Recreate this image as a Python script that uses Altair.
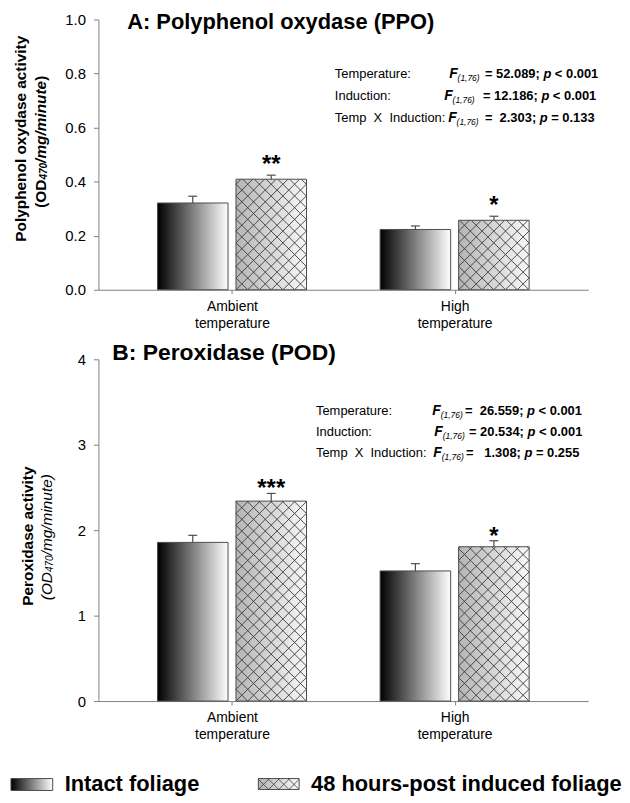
import json
import altair as alt
import numpy as np
import pandas as pd

FONT = "Liberation Sans"
NB = "\u00a0"

# ---------------- data ----------------
categories = ["Ambient temperature", "High temperature"]
treatments = ["Intact foliage", "48 hours-post induced foliage"]

# order: ambient-intact, ambient-induced, high-intact, high-induced
ppo_means = [0.321, 0.409, 0.223, 0.257]
ppo_errors = [0.025, 0.015, 0.013, 0.015]
ppo_stars = ["", "**", "", "*"]

pod_means = [1.857, 2.340, 1.523, 1.806]
pod_errors = [0.083, 0.090, 0.085, 0.070]
pod_stars = ["", "***", "", "*"]

ppo_ticks = [0.0, 0.2, 0.4, 0.6, 0.8, 1.0]
pod_ticks = [0, 1, 2, 3, 4]

stat_effects = ["Temperature:", "Induction:", "Temp" + NB + NB + "X" + NB + NB + "Induction:"]
stat_df = "(1,76)"
ppo_F = ["52.089", "12.186", "2.303"]
ppo_p = ["< 0.001", "< 0.001", "= 0.133"]
pod_F = ["26.559", "20.534", "1.308"]
pod_p = ["< 0.001", "< 0.001", "= 0.255"]

panel_titles = ["A: Polyphenol oxydase (PPO)", "B: Peroxidase (POD)"]
ppo_ytitle = "Polyphenol oxydase activity"
pod_ytitle = "Peroxidase activity"
unit_parts = ["(OD", "470", "/mg/minute", ")"]

# ---------------- layout ----------------
PLOT_W = 493
H_A, H_B = 272, 344
X_DOMAIN = [0.4, 2.6]
PX = PLOT_W / (X_DOMAIN[1] - X_DOMAIN[0])
BAR_PX, GAP_PX, CAP_PX, HATCH_PX = 71, 8, 9, 11.8
AXIS_GREY = "#808080"
EDGE = "#4d4d4d"
HATCH_COL = "#3a3a3a"
PAGE_LEFT, A_TOP, B_TOP = 98, 17, 359

GRAD_INTACT = {"gradient": "linear", "x1": 0, "y1": 0, "x2": 1, "y2": 0,
               "stops": [{"offset": 0, "color": "#000000"},
                         {"offset": 1, "color": "#ffffff"}]}
GRAD_INDUCED = {"gradient": "linear", "x1": 0, "y1": 0, "x2": 1, "y2": 0,
                "stops": [{"offset": 0, "color": "#b5b5b5"},
                          {"offset": 1, "color": "#f8f8f8"}]}

BOLD_W = {"=": .584, "<": .584, ".": .278, ";": .333, " ": .278, NB: .278}


def bw(s, size):
    return sum(BOLD_W.get(c, .556) for c in s) * size


def bars_frame(means, errors, stars):
    rows = []
    for i, (m, e, s) in enumerate(zip(means, errors, stars)):
        g, t = divmod(i, 2)
        c = g + 1
        if t == 0:
            x0 = c - (GAP_PX / 2 + BAR_PX) / PX
            x1 = c - (GAP_PX / 2) / PX
        else:
            x0 = c + (GAP_PX / 2) / PX
            x1 = c + (GAP_PX / 2 + BAR_PX) / PX
        xc = (x0 + x1) / 2
        rows.append({"category": categories[g], "treatment": treatments[t],
                     "mean": m, "top": m + e, "zero": 0.0,
                     "x0": x0, "x1": x1, "xc": xc,
                     "c0": xc - CAP_PX / 2 / PX, "c1": xc + CAP_PX / 2 / PX,
                     "star": s})
    return pd.DataFrame(rows)


def clip_diagonals(w, h, d):
    segs = []
    n = int(np.ceil((w + h) / d)) + 2
    for k in range(-n, n + 1):
        c = k * d
        xa, xb = max(0.0, -c), min(w, h - c)
        if xb - xa > 0.3:
            segs.append((xa, xa + c, xb, xb + c))
        xa, xb = max(0.0, c - h), min(w, c)
        if xb - xa > 0.3:
            segs.append((xa, c - xa, xb, c - xb))
    return segs


def hatch_frame(bars, ypx):
    rows = []
    for r in bars[bars.treatment == treatments[1]].itertuples():
        w = (r.x1 - r.x0) * PX
        h = r.mean * ypx
        for xa, ya, xb, yb in clip_diagonals(w, h, HATCH_PX):
            rows.append({"hx0": r.x0 + xa / PX, "hy0": ya / ypx,
                         "hx1": r.x0 + xb / PX, "hy1": yb / ypx})
    return pd.DataFrame(rows)


def txt(rows, weight="normal", style="normal", align="left", angle=0):
    df = pd.DataFrame(rows, columns=["px", "py", "label", "fs"])
    return alt.Chart(df).mark_text(
        font=FONT, fontWeight=weight, fontStyle=style, align=align,
        baseline="middle", angle=angle, color="black"
    ).encode(
        x=alt.X("px:Q", scale=None, axis=None),
        y=alt.Y("py:Q", scale=None, axis=None),
        size=alt.Size("fs:Q", scale=None, legend=None),
        text="label:N",
    )


def stats_layers(F_vals, p_vals, top, label_x, F_x, eq_x, ys, pads):
    normal, fit, sub, bold = [], [], [], []
    for i in range(3):
        y = ys[i] - top
        normal.append((label_x - PAGE_LEFT, y, stat_effects[i], 13))
        fx = F_x[i] - PAGE_LEFT
        fit.append((fx, y, "F", 14))
        sub.append((fx + 8.5, y + 4, stat_df, 8.5))
        s1 = "=" + NB * pads[i] + " " + F_vals[i] + ";"
        ex = eq_x[i] - PAGE_LEFT
        bold.append((ex, y, s1, 13))
        xp = ex + bw(s1, 13) + 3.6
        fit.append((xp, y, "p", 13))
        bold.append((xp + 7.9 + 3.6, y, p_vals[i], 13))
    return [txt(normal), txt(fit, "bold", "italic"), txt(sub, "normal", "italic"),
            txt(bold, "bold")]


def unit_title(xp, yc, size, weight, styles):
    # rotated multi-style "(OD470/mg/minute)" reading upward
    sub_size = size * 0.65
    widths = [1.833 * size, 1.668 * sub_size,
              (5.334 if weight == "bold" else 4.946) * size, 0.333 * size]
    total = sum(widths)
    y = yc + total / 2
    layers = []
    for part, wdt, st, i in zip(unit_parts, widths, styles, range(4)):
        fs = sub_size if i == 1 else size
        xx = xp + (3.5 if i == 1 else 0)
        layers.append(txt([(xx, y, part, fs)], weight, st, "left", 270))
        y -= wdt
    return layers


def panel(means, errors, stars, ticks, fmt, ymax, height, top, star_dy,
          title_xy, ytitle, ytitle_x, ytitle_y, unit_x, unit_y, unit_weight, unit_styles,
          F_vals, p_vals, label_x, F_x, eq_x, ys, pads, extra=()):
    bars = bars_frame(means, errors, stars)
    ypx = height / ymax
    hatch = hatch_frame(bars, ypx)
    xs = alt.Scale(domain=X_DOMAIN, nice=False, zero=False)
    ysc = alt.Scale(domain=[0, ymax], nice=False, zero=True)
    label_expr = "split(" + json.dumps(categories) + "[datum.value - 1], ' ')"
    xa = alt.Axis(values=[1, 2], labelExpr=label_expr, title=None, grid=False,
                  domainColor=AXIS_GREY, tickColor=AXIS_GREY, tickSize=4,
                  labelFontSize=14, labelLineHeight=17, labelPadding=6,
                  labelColor="black", labelFont=FONT)
    ya = alt.Axis(values=ticks, format=fmt, title=None, grid=False,
                  domainColor=AXIS_GREY, tickColor=AXIS_GREY, tickSize=5,
                  labelFontSize=15, labelPadding=8, labelColor="black",
                  labelFont=FONT)

    def X(f):
        return alt.X(f, scale=xs, axis=xa)

    def Y(f):
        return alt.Y(f, scale=ysc, axis=ya)

    base = alt.Chart(bars)
    intact = base.transform_filter(alt.datum.treatment == treatments[0]).mark_rect(
        fill=GRAD_INTACT, stroke=EDGE, strokeWidth=1).encode(
        x=X("x0:Q"), x2="x1:Q", y=Y("mean:Q"), y2="zero:Q")
    induced = base.transform_filter(alt.datum.treatment == treatments[1]).mark_rect(
        fill=GRAD_INDUCED, strokeWidth=0).encode(
        x=X("x0:Q"), x2="x1:Q", y=Y("mean:Q"), y2="zero:Q")
    hatch_l = alt.Chart(hatch).mark_rule(color=HATCH_COL, strokeWidth=0.9).encode(
        x=X("hx0:Q"), x2="hx1:Q", y=Y("hy0:Q"), y2="hy1:Q")
    outline = base.transform_filter(alt.datum.treatment == treatments[1]).mark_rect(
        fillOpacity=0, stroke=EDGE, strokeWidth=1).encode(
        x=X("x0:Q"), x2="x1:Q", y=Y("mean:Q"), y2="zero:Q")
    err = base.mark_rule(color=EDGE, strokeWidth=1.2).encode(
        x=X("xc:Q"), y=Y("mean:Q"), y2="top:Q")
    caps = base.mark_rule(color=EDGE, strokeWidth=1.2).encode(
        x=X("c0:Q"), x2="c1:Q", y=Y("top:Q"))
    star_l = base.mark_text(font=FONT, fontSize=24, fontWeight="bold",
                            baseline="alphabetic", dy=star_dy, color="black").encode(
        x=X("xc:Q"), y=Y("top:Q"), text="star:N")

    layers = [intact, induced, hatch_l, outline, err, caps, star_l]
    layers.append(txt([(title_xy[0] - PAGE_LEFT, title_xy[1] - top, title_xy[2],
                        title_xy[3])], "bold"))
    layers.append(txt([(ytitle_x - PAGE_LEFT, ytitle_y - top, ytitle, 15.5)], "bold",
                      "normal", "center", 270))
    layers += unit_title(unit_x - PAGE_LEFT, unit_y - top, 15.5, unit_weight, unit_styles)
    layers += stats_layers(F_vals, p_vals, top, label_x, F_x, eq_x, ys, pads)
    layers += list(extra)
    return alt.layer(*layers).properties(width=PLOT_W, height=height)


# ---------------- legend (drawn under panel B) ----------------
def legend_layers(top):
    sw = [(10, 52, 781, 793), (259, 300, 781, 792)]
    rects = []
    for (a, b, c, d), g in zip(sw, [GRAD_INTACT, GRAD_INDUCED]):
        rects.append(alt.Chart(pd.DataFrame([{"a": a - PAGE_LEFT, "b": b - PAGE_LEFT,
                                              "c": c - top, "d": d - top}])).mark_rect(
            fill=g, stroke=EDGE, strokeWidth=1).encode(
            x=alt.X("a:Q", scale=None, axis=None), x2="b:Q",
            y=alt.Y("c:Q", scale=None, axis=None), y2="d:Q"))
    a, b, c, d = sw[1]
    segs = clip_diagonals(b - a, d - c, (b - a) / 4)
    hrows = [{"a": a - PAGE_LEFT + xa, "c": d - top - ya, "b": a - PAGE_LEFT + xb,
              "d": d - top - yb} for xa, ya, xb, yb in segs]
    hl = alt.Chart(pd.DataFrame(hrows)).mark_rule(color=HATCH_COL, strokeWidth=0.8).encode(
        x=alt.X("a:Q", scale=None, axis=None), x2="b:Q",
        y=alt.Y("c:Q", scale=None, axis=None), y2="d:Q")
    labels = txt([(64 - PAGE_LEFT, 787 - top, treatments[0], 22),
                  (312 - PAGE_LEFT, 787 - top, treatments[1], 22)], "bold")
    return rects + [hl, labels]


panel_a = panel(ppo_means, ppo_errors, ppo_stars, ppo_ticks, ".1f", 1.0, H_A, A_TOP, -3,
                (127, 20, panel_titles[0], 22), ppo_ytitle, 20, 137, 40, 140, "bold",
                ["normal", "italic", "italic", "normal"],
                ppo_F, ppo_p, 336, [451, 446, 450], [487, 485, 487], [72, 94, 116],
                [0, 0, 1])

panel_b = panel(pod_means, pod_errors, pod_stars, pod_ticks, "d", 4.0, H_B, B_TOP, 3,
                (112, 353, panel_titles[1], 23), pod_ytitle, 27, 537, 46, 538, "normal",
                ["italic", "italic", "italic", "italic"],
                pod_F, pod_p, 317, [434, 436, 435], [467, 471, 468], [411, 432, 453],
                [1, 0, 2], extra=legend_layers(B_TOP))

chart = alt.vconcat(panel_a, panel_b, spacing=12).properties(
    padding={"left": 2, "top": 1, "right": 0, "bottom": 0},
    background="white",
).configure(font=FONT, view={"stroke": None})

chart.save("out.html", embed_options={"renderer": "svg", "actions": False})
